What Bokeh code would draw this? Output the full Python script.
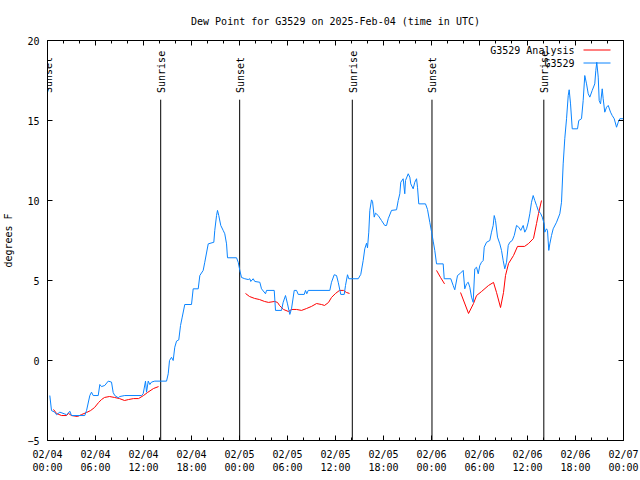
import math
from bokeh.plotting import figure
from bokeh.models import Range1d, FixedTicker, LinearAxis, Label, Arrow
from bokeh.embed import file_html
from bokeh.resources import INLINE

NAN = float("nan")

# ---- data (hours since 2025-02-04 00:00 UTC, dew point in deg F) ----
obs_hours = [0.29, 0.5, 0.91, 1.13, 1.54, 2.09, 2.38, 2.59, 2.79, 3.0,
             4.66, 4.88, 5.29, 5.5, 5.71, 6.34, 6.54, 6.75, 7.16, 7.59,
             8.0, 8.21, 8.41, 8.84, 9.04, 9.66, 11.75, 11.96, 12.25, 12.38,
             12.59, 12.79, 13.0, 13.41, 14.88, 15.09, 15.25, 15.5, 15.71, 15.91,
             16.13, 16.41, 16.63, 16.84, 17.16, 18.0, 18.21, 18.84, 19.04, 19.46,
             19.66, 20.09, 20.79, 20.91, 21.13, 21.25, 21.41, 21.66, 21.96, 22.16,
             22.38, 22.5, 23.63, 23.84, 24.04, 24.25, 24.66, 25.09, 25.29, 25.41,
             25.71, 25.91, 26.54, 26.75, 27.25, 27.38, 28.34, 28.5, 29.25, 29.46,
             29.75, 30.0, 30.29, 30.5, 30.84, 31.13, 31.34, 32.09, 32.25, 32.41,
             32.59, 35.29, 35.5, 35.84, 36.13, 36.34, 36.66, 37.09, 37.25, 37.5,
             37.66, 38.84, 39.16, 39.46, 39.66, 39.88, 40.0, 40.16, 40.29, 40.5,
             40.63, 40.84, 41.0, 41.34, 41.75, 42.16, 42.38, 42.59, 43.0, 43.63,
             43.84, 44.04, 44.16, 44.46, 44.66, 44.75, 45.09, 45.29, 45.41, 45.71,
             45.91, 46.13, 46.25, 46.41, 47.25, 47.5, 47.79, 48.0, 48.21, 48.41,
             48.63, 49.46, 49.59, 50.41, 50.71, 50.91, 51.25, 51.54, 51.96, 52.16,
             52.38, 52.59, 52.79, 53.0, 53.21, 53.41, 53.63, 53.84, 54.04, 54.25,
             54.46, 54.59, 54.88, 55.29, 55.5, 55.71, 55.84, 56.0, 56.25, 56.54,
             56.75, 56.96, 57.16, 57.38, 57.59, 57.79, 58.09, 58.34, 58.63, 58.91,
             59.16, 59.46, 59.66, 59.88, 60.09, 60.29, 60.5, 60.71, 60.91, 61.13,
             61.34, 61.66, 61.84, 62.09, 62.16, 62.38, 62.5, 62.66, 62.79, 63.0,
             63.21, 63.63, 64.04, 64.25, 64.46, 64.66, 64.88, 65.09, 65.21, 65.38,
             65.59, 66.25, 66.41, 66.75, 66.96, 67.16, 67.38, 67.59, 67.79, 68.09,
             68.41, 68.54, 68.66, 68.84, 68.96, 69.13, 69.34, 69.46, 69.66, 69.88,
             70.09, 70.38, 70.59, 70.84, 71.13, 71.34, 71.54, 71.96]
obs_dewpt = [-2.19, -3.13, -3.23, -3.39, -3.23, -3.33, -3.39, -3.29, -3.17, -3.44,
             -3.44, -3.13, -2.19, -1.98, -2.19, -2.19, -1.5, -1.63, -1.56, -1.29,
             -1.35, -2.0, -2.19, -2.33, -2.25, -2.19, -2.19, -2.08, -1.29, -1.98,
             -1.29, -1.5, -1.35, -1.29, -1.29, -0.83, 0.0, 0.2, 0.0, 0.83,
             1.21, 1.29, 2.19, 2.71, 3.5, 3.5, 4.48, 4.48, 5.31, 5.63,
             6.14, 7.29, 7.39, 8.13, 9.06, 9.38, 9.06, 8.44, 8.13, 7.92,
             7.29, 6.42, 6.42, 6.14, 5.63, 5.19, 5.11, 5.06, 5.11, 4.94,
             5.11, 4.94, 4.89, 4.48, 4.17, 4.38, 4.38, 3.13, 3.13, 3.64,
             4.06, 3.54, 2.88, 3.23, 4.38, 4.38, 4.13, 4.13, 4.38, 4.17,
             4.38, 4.38, 4.89, 5.36, 5.31, 4.89, 4.13, 4.13, 4.69, 5.36,
             5.11, 5.11, 5.38, 6.25, 6.98, 7.33, 7.04, 8.02, 9.38, 10.04,
             9.94, 8.96, 9.21, 9.06, 8.75, 8.44, 8.44, 8.86, 9.38, 9.42,
             10.0, 10.42, 11.14, 11.36, 10.42, 11.25, 11.67, 11.46, 11.04, 10.73,
             11.14, 11.36, 10.83, 9.79, 9.79, 9.44, 8.63, 8.06, 7.46, 6.88,
             6.04, 6.04, 5.11, 5.11, 4.69, 4.42, 5.31, 5.42, 5.63, 4.48,
             4.79, 4.89, 4.58, 3.96, 3.64, 5.73, 5.83, 5.42, 5.94, 6.14,
             6.25, 7.08, 7.39, 7.5, 8.02, 8.44, 9.06, 8.75, 7.71, 7.29,
             6.88, 6.25, 5.73, 6.14, 7.19, 7.39, 7.5, 7.81, 8.44, 8.33,
             8.13, 8.44, 8.02, 8.23, 8.64, 9.17, 9.89, 10.31, 10.0, 9.69,
             9.38, 9.17, 8.96, 8.54, 8.02, 8.23, 8.13, 6.88, 7.29, 7.81,
             8.23, 8.64, 9.17, 9.89, 12.29, 13.86, 15.11, 16.56, 16.92, 16.04,
             14.48, 14.48, 15.0, 15.11, 16.25, 17.81, 17.29, 16.67, 16.46, 16.88,
             17.29, 18.13, 18.64, 17.71, 16.25, 16.04, 16.98, 16.36, 15.52, 15.83,
             15.94, 15.52, 15.31, 15.11, 14.58, 14.89, 15.11, 15.11]

ana_hours = [0.75, 1.13, 1.75, 2.38, 2.63, 3.0, 3.75, 4.25, 4.88, 5.38,
             5.88, 6.38, 6.75, 7.13, 7.75, 8.38, 9.0, 9.63, 10.13, 10.75,
             11.38, 12.0, 12.5, 13.25, 13.88, NAN,
             24.75, 25.25, 25.88, 26.5, 27.13, 27.63, 28.38, 28.75, 29.0, 29.5,
             30.13, 30.5, 31.13, 31.75, 32.38, 33.0, 33.63, 34.25, 34.63, 35.13,
             35.5, 36.0, 36.5, 37.0, 37.38, 37.75, NAN,
             48.63, 49.13, 49.63, NAN,
             51.63, 52.63, 53.25, 53.63, 54.25, 55.13, 55.75, 56.13, 56.63, 57.0,
             57.25, 57.63, 58.25, 58.75, 59.63, 60.13, 60.75, 61.13, 61.38, 61.75]
ana_dewpt = [-3.06, -3.31, -3.44, -3.44, -3.31, -3.44, -3.5, -3.38, -3.25, -3.13,
             -2.94, -2.63, -2.44, -2.31, -2.25, -2.31, -2.38, -2.5, -2.44, -2.38,
             -2.38, -2.19, -2.0, -1.75, -1.63, NAN,
             4.19, 4.0, 3.88, 3.81, 3.69, 3.63, 3.69, 3.63, 3.44, 3.19,
             3.06, 3.19, 3.19, 3.13, 3.25, 3.38, 3.56, 3.5, 3.44, 3.63,
             3.94, 4.19, 4.38, 4.38, 4.25, 4.19, NAN,
             5.63, 5.19, 4.79, NAN,
             4.25, 2.94, 3.56, 4.06, 4.31, 4.69, 4.88, 4.25, 3.31, 4.25,
             5.31, 6.06, 6.56, 7.13, 7.13, 7.31, 7.63, 8.56, 9.19, 10.0]

event_hours = [0.0, 14.15, 24.02, 38.1, 48.06, 62.04]
event_names = ["Sunset", "Sunrise", "Sunset", "Sunrise", "Sunset", "Sunrise"]

x_tick_hours = [0, 6, 12, 18, 24, 30, 36, 42, 48, 54, 60, 66, 72]
x_tick_labels = ["02/04\n00:00", "02/04\n06:00", "02/04\n12:00", "02/04\n18:00",
                 "02/05\n00:00", "02/05\n06:00", "02/05\n12:00", "02/05\n18:00",
                 "02/06\n00:00", "02/06\n06:00", "02/06\n12:00", "02/06\n18:00",
                 "02/07\n00:00"]
x_minor_hours = list(range(0, 73, 2))
y_ticks = [-5, 0, 5, 10, 15, 20]

series_names = ["G3529 Analysis", "G3529"]
series_colors = ["#ff0000", "#0a84ff"]

FONT = "DejaVu Sans Mono"
Y_LO, Y_HI = -5, 20
X_LO, X_HI = 0, 72

p = figure(frame_width=576, frame_height=400,
           x_range=Range1d(X_LO, X_HI), y_range=Range1d(Y_LO, Y_HI),
           output_backend="svg", toolbar_location=None,
           min_border_left=46, min_border_right=18,
           min_border_top=40, min_border_bottom=40,
           title="Dew Point for G3529 on 2025-Feb-04 (time in UTC)")
p.background_fill_color = "white"
p.border_fill_color = "white"
p.outline_line_color = "black"
p.outline_line_width = 1
p.outline_line_alpha = 1.0
p.xgrid.visible = False
p.ygrid.visible = False

p.title.text_font = FONT
p.title.text_font_size = "10px"
p.title.text_font_style = "normal"
p.title.align = "center"
p.title.text_color = "black"
p.title.standoff = 27


def style_axis(ax, show_labels):
    ax.axis_line_color = None
    ax.major_tick_line_color = "black"
    ax.minor_tick_line_color = "black"
    ax.major_tick_in = 5
    ax.major_tick_out = 0
    ax.minor_tick_in = 3
    ax.minor_tick_out = 0
    ax.major_label_text_font = FONT
    if show_labels:
        ax.major_label_text_color = "black"
        ax.major_label_text_font_size = "10px"
        ax.major_label_standoff = 8
    else:
        ax.major_label_text_color = None
        ax.major_label_text_font_size = "0px"
        ax.major_label_standoff = 0


xb = p.xaxis[0]
xb.ticker = FixedTicker(ticks=x_tick_hours, minor_ticks=x_minor_hours)
xb.major_label_overrides = {h: lab for h, lab in zip(x_tick_hours, x_tick_labels)}
style_axis(xb, True)

yl = p.yaxis[0]
yl.ticker = FixedTicker(ticks=y_ticks, minor_ticks=[])
style_axis(yl, True)
yl.axis_label = "degrees F"
yl.axis_label_text_font = FONT
yl.axis_label_text_font_size = "10px"
yl.axis_label_text_font_style = "normal"
yl.axis_label_text_color = "black"
yl.axis_label_standoff = 10

xt = LinearAxis(ticker=FixedTicker(ticks=x_tick_hours, minor_ticks=x_minor_hours))
style_axis(xt, False)
p.add_layout(xt, "above")

yr = LinearAxis(ticker=FixedTicker(ticks=y_ticks, minor_ticks=[]))
style_axis(yr, False)
p.add_layout(yr, "right")

# sunrise / sunset markers
n_ev = len(event_hours)
p.segment(x0=event_hours, y0=[Y_LO] * n_ev, x1=event_hours, y1=[16.3] * n_ev,
          line_color="black", line_width=1)
for h, name in zip(event_hours, event_names):
    p.add_layout(Label(x=h, y=16.72, x_units="data", y_units="data", text=name,
                       angle=math.pi / 2, text_align="left", text_baseline="middle",
                       x_offset=1, text_font=FONT, text_font_size="10px",
                       text_color="black"))

# series
p.line(ana_hours, ana_dewpt, line_color=series_colors[0], line_width=1)
p.line(obs_hours, obs_dewpt, line_color=series_colors[1], line_width=1)

# gnuplot-style key (text then sample), top right
for i, (name, col) in enumerate(zip(series_names, series_colors)):
    sy = 390.5 - 13 * i
    p.add_layout(Label(x=527, y=sy, x_units="screen", y_units="screen", text=name,
                       text_align="right", text_baseline="middle", text_font=FONT,
                       text_font_size="10px", text_color="black"))
    p.add_layout(Arrow(end=None, start=None, x_start=536, y_start=sy, x_end=563, y_end=sy,
                       start_units="screen", end_units="screen",
                       line_color=col, line_width=1))

open("out.html", "w").write(file_html(p, INLINE))
